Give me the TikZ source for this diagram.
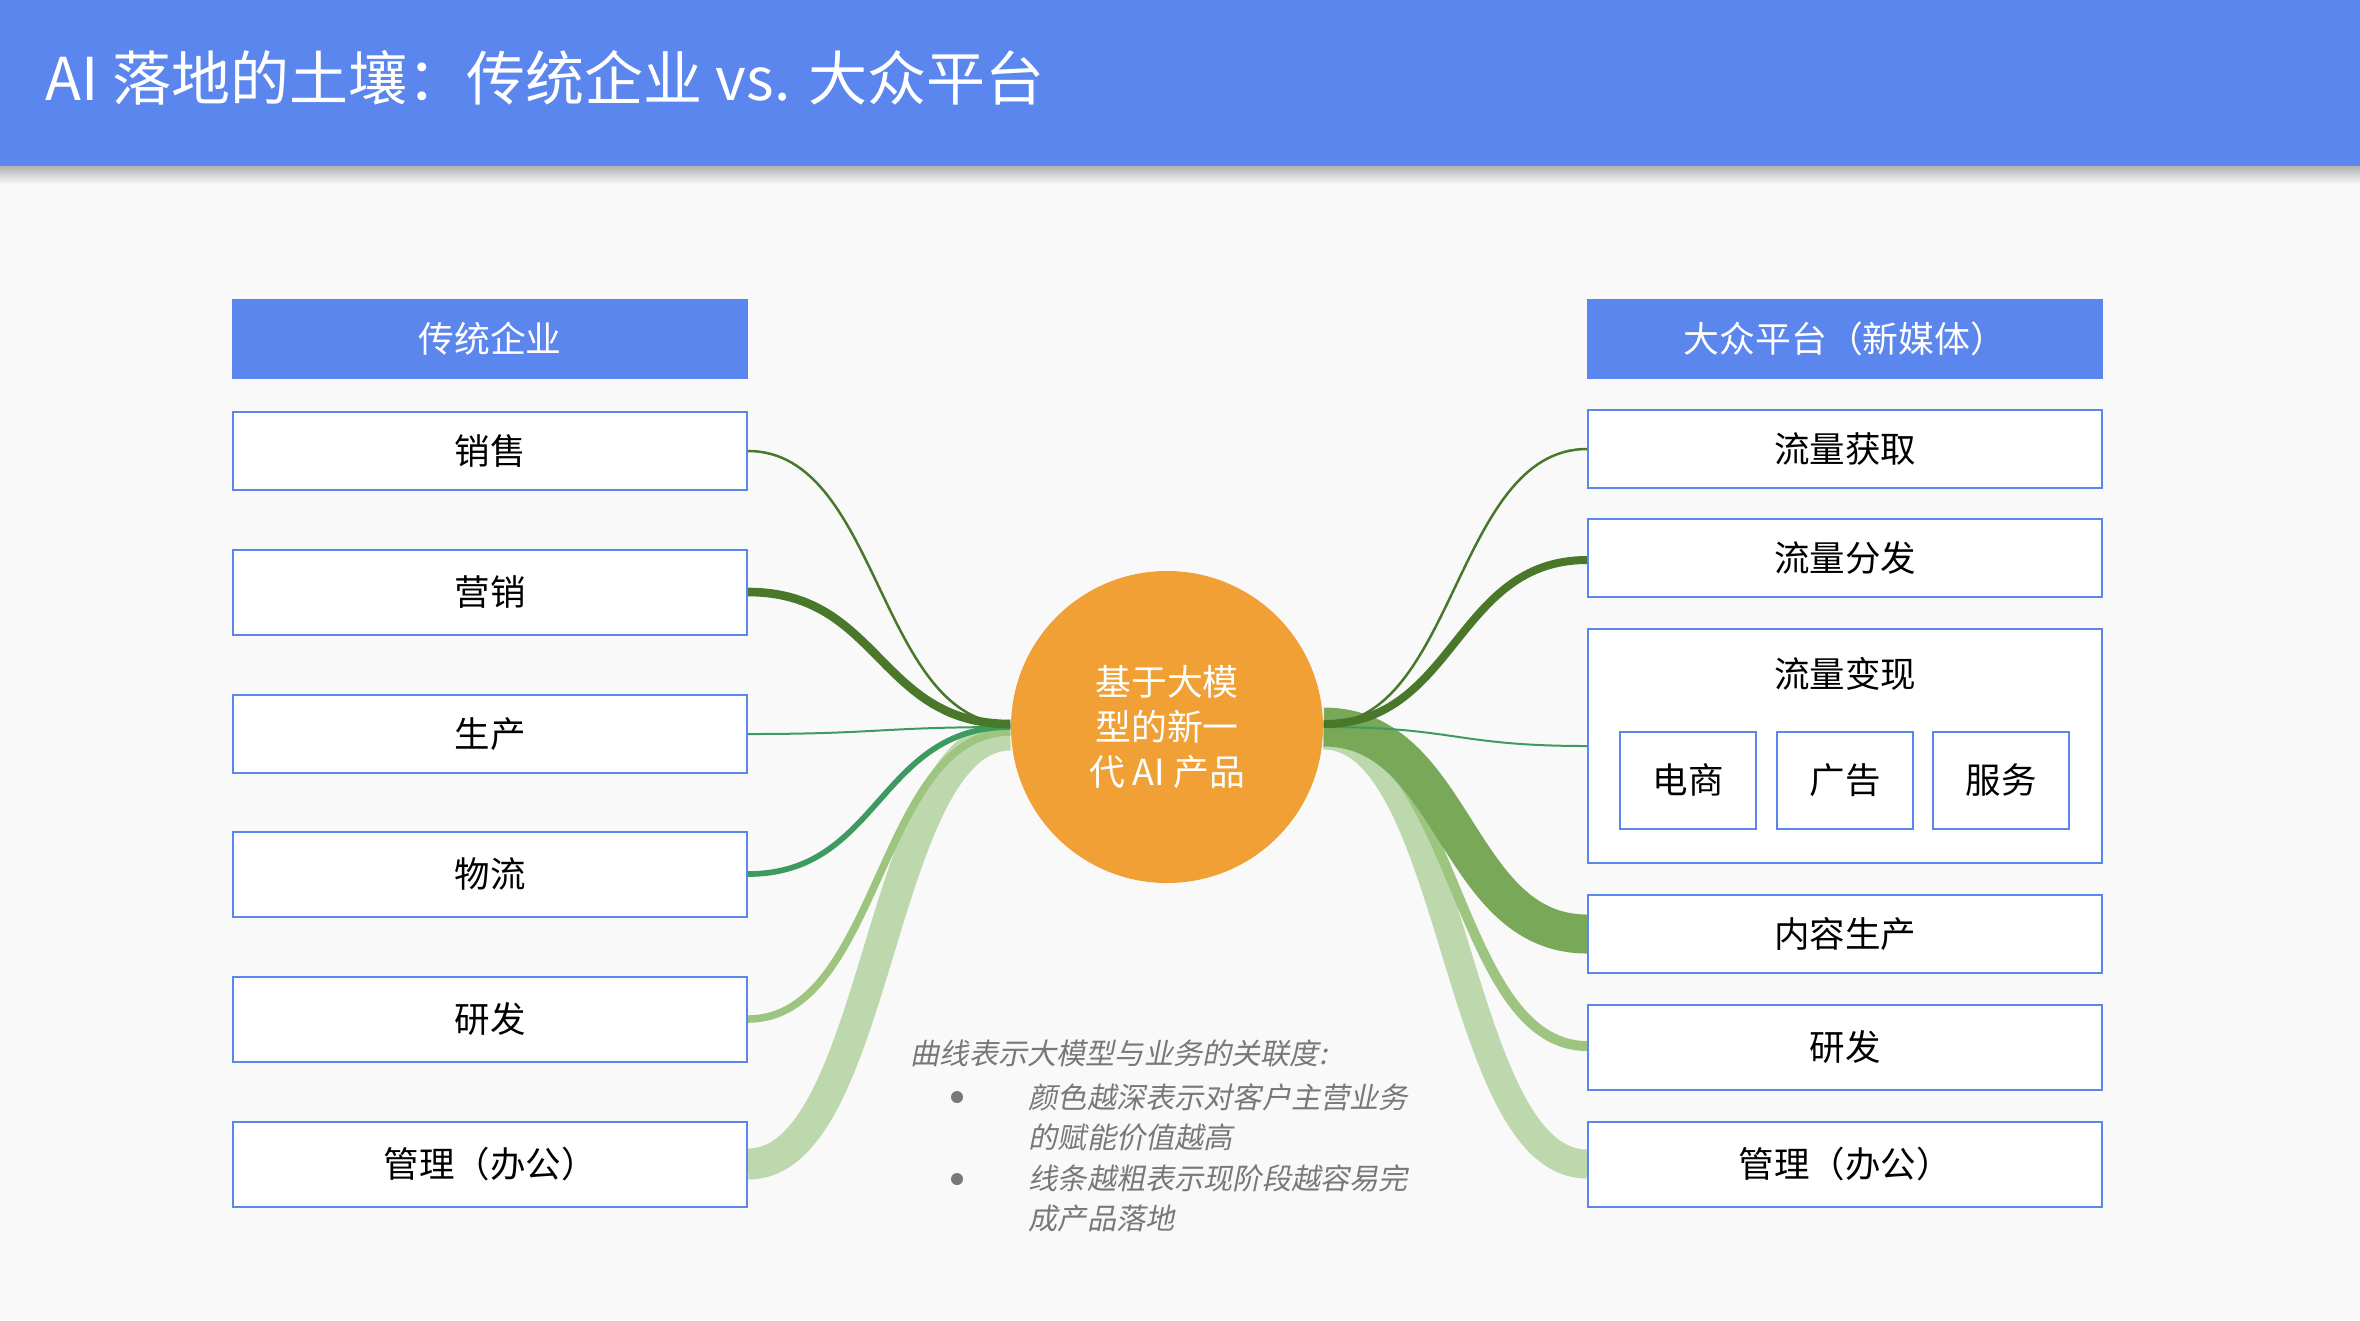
\documentclass[tikz,border=0pt]{standalone}
\usepackage{fontspec}
\setmainfont{Noto Sans CJK SC}
\newfontfamily\notefont[FakeSlant=0.2]{Noto Sans CJK SC}
\usepackage{tikz}
\usetikzlibrary{backgrounds}
\definecolor{titleblue} {RGB}{ 91,134,238}
\definecolor{pagebg}    {RGB}{249,249,249}
\definecolor{coreorange}{RGB}{240,160, 52}
\definecolor{darkgreen} {RGB}{ 74,120, 43}
\definecolor{tealgreen} {RGB}{ 62,155, 96}
\definecolor{midgreen}  {RGB}{120,168, 88}
\definecolor{lightgreen}{RGB}{157,197,127}
\definecolor{palegreen} {RGB}{188,216,172}
\definecolor{notegray}  {RGB}{120,120,120}

\begin{document}
\begin{tikzpicture}[x=0.1mm, y=-0.1mm,
      hdr/.style={fill=titleblue, text=white, inner sep=0pt,
                  minimum width=51.6mm, minimum height=8mm,
                  font=\fontsize{10.2}{12}\selectfont},
      item/.style={draw=titleblue, fill=white, line width=0.2mm, inner sep=0pt,
                   minimum width=51.4mm, minimum height=7.8mm,
                   font=\fontsize{10.1}{12}\selectfont},
      tall/.style={minimum height=8.5mm},
      subitem/.style={item, minimum width=13.6mm, minimum height=9.7mm},
      core/.style={circle, fill=coreorange, text=white, inner sep=0pt,
                   minimum size=31.2mm, align=center,
                   font=\fontsize{10.2}{12.8}\selectfont},
      note/.style={text=notegray, inner sep=0pt, align=left,
                   font=\notefont\fontsize{8.3}{11.4}\selectfont},
      dot/.style={circle, fill=notegray, inner sep=0pt, minimum size=1.2mm},
      link/.style={line cap=butt},
    ]
      \useasboundingbox (0,0) rectangle (2360,1320);
      \begin{scope}[on background layer]
        \fill[pagebg] (0,0) rectangle (2360,1320);
      \end{scope}

      % Title bar
      \shade[top color=black!30, bottom color=pagebg] (0,166) rectangle (2360,184);
      \fill[titleblue] (0,0) rectangle (2360,166);
      \node[anchor=west, text=white, inner sep=0pt,
            font=\fontsize{16.8}{20}\selectfont] (title) at (45,78)
            {AI 落地的土壤：传统企业 vs. 大众平台};

      % Left column
      \node[hdr]        (lhead) at (490, 339)  {传统企业};
      \node[item]       (sales) at (490, 451)  {销售};
      \node[item, tall] (mkt)   at (490, 592)  {营销};
      \node[item]       (prod)  at (490, 734)  {生产};
      \node[item, tall] (logi)  at (490, 874)  {物流};
      \node[item, tall] (lrnd)  at (490, 1019) {研发};
      \node[item, tall] (ladm)  at (490, 1164) {管理（办公）};

      % Right column
      \node[hdr]        (rhead) at (1845, 339)  {大众平台（新媒体）};
      \node[item]       (acq)   at (1845, 449)  {流量获取};
      \node[item]       (dist)  at (1845, 558)  {流量分发};
      \node[item, minimum height=23.4mm] (money) at (1845, 746) {};
      \node[font=\fontsize{10.1}{12}\selectfont, inner sep=0pt]
                        (moneylbl) at (1845, 674) {流量变现};
      \node[subitem]    (ecom)  at (1688, 780)  {电商};
      \node[subitem]    (ads)   at (1845, 780)  {广告};
      \node[subitem]    (serv)  at (2001, 780)  {服务};
      \node[item]       (cont)  at (1845, 934)  {内容生产};
      \node[item, tall] (rrnd)  at (1845, 1047) {研发};
      \node[item, tall] (radm)  at (1845, 1164) {管理（办公）};

      % Core
      \node[core] (core) at (1167, 727) {基于大模\\型的新一\\代 AI 产品};

      % Note
      \node[note, anchor=west] (notehead) at (910, 1053)
            {曲线表示大模型与业务的关联度:};
      \node[dot] (dot1) at (957, 1097) {};
      \node[note, anchor=west] (note1) at (1028, 1117)
            {颜色越深表示对客户主营业务\\的赋能价值越高};
      \node[dot] (dot2) at (957, 1179) {};
      \node[note, anchor=west] (note2) at (1028, 1198)
            {线条越粗表示现阶段越容易完\\成产品落地};

      % Links
      \begin{scope}[on background layer]
        \draw[link, palegreen,  line width=3.1mm]  (ladm.east)
              .. controls +(132,0) and +(-132,0) .. ([yshift=-0.8mm]core.west);
        \draw[link, lightgreen, line width=0.75mm] (lrnd.east)
              .. controls +(132,0) and +(-132,0) .. ([yshift=-0.5mm]core.west);
        \draw[link, tealgreen,  line width=0.57mm] (logi.east)
              .. controls +(132,0) and +(-132,0) .. (core.west);
        \draw[link, tealgreen,  line width=0.2mm]  (prod.east)
              .. controls +(132,0) and +(-132,0) .. (core.west);
        \draw[link, darkgreen,  line width=0.86mm] (mkt.east)
              .. controls +(132,0) and +(-132,0) .. ([yshift=0.3mm]core.west);
        \draw[link, darkgreen,  line width=0.25mm] (sales.east)
              .. controls +(132,0) and +(-132,0) .. ([yshift=0.3mm]core.west);

        \draw[link, palegreen,  line width=2.9mm]  ([yshift=-0.8mm]core.east)
              .. controls +(132,0) and +(-132,0) .. (radm.west);
        \draw[link, lightgreen, line width=1mm]    ([yshift=-0.5mm]core.east)
              .. controls +(132,0) and +(-132,0) .. ([yshift=0.1mm]rrnd.west);
        \draw[link, midgreen,   line width=3.9mm]  (core.east)
              .. controls +(132,0) and +(-132,0) .. (cont.west);
        \draw[link, tealgreen,  line width=0.2mm]  (core.east)
              .. controls +(132,0) and +(-132,0) .. (money.west);
        \draw[link, darkgreen,  line width=0.8mm]  ([yshift=0.3mm]core.east)
              .. controls +(132,0) and +(-132,0) .. ([yshift=-0.2mm]dist.west);
        \draw[link, darkgreen,  line width=0.25mm] ([yshift=0.3mm]core.east)
              .. controls +(132,0) and +(-132,0) .. (acq.west);
      \end{scope}
    \end{tikzpicture}
\end{document}
